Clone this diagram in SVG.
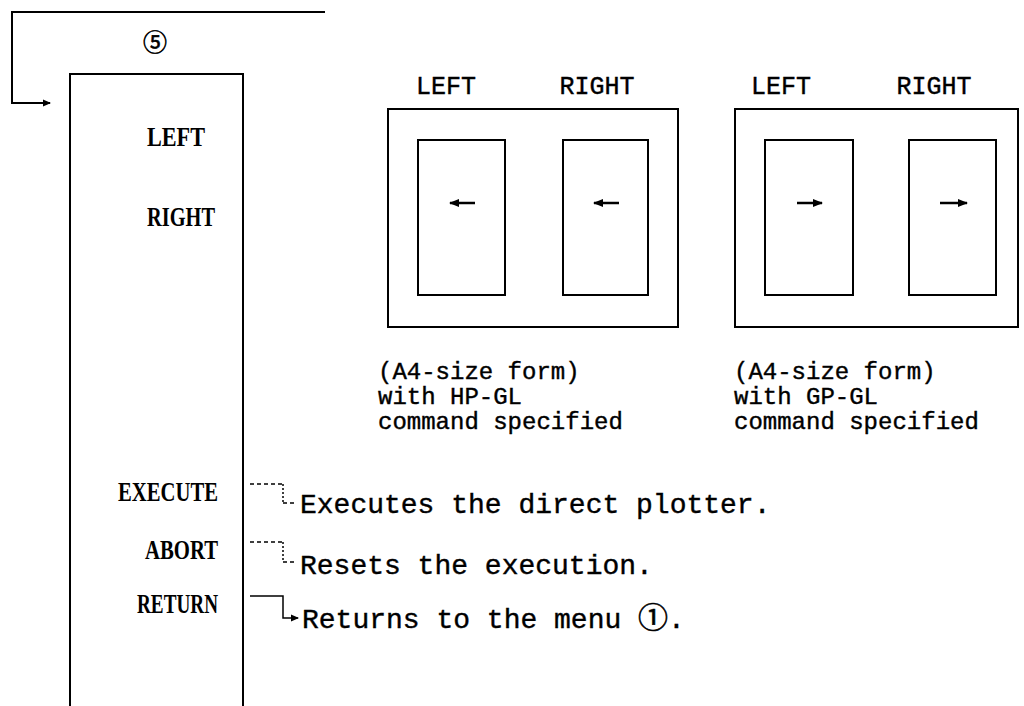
<svg xmlns="http://www.w3.org/2000/svg" width="1024" height="706" viewBox="0 0 1024 706">
<style>
.ln{fill:none;stroke:#000;stroke-width:2}
.lt{fill:none;stroke:#000;stroke-width:1.5}
.ar{fill:none;stroke:#000;stroke-width:2.5}
.dsh{fill:none;stroke:#000;stroke-width:1.5;stroke-dasharray:4 3}
.dot{fill:none;stroke:#000;stroke-width:1.5;stroke-dasharray:2 2}
.mono{font-family:"Liberation Mono","Courier New",monospace;font-size:25px;fill:#000;stroke:#000;stroke-width:0.4}
.cap{font-size:24px}
.desc{font-size:28px}
.menu{font-family:"Liberation Serif","Times New Roman",serif;font-weight:bold;font-size:27px;fill:#000}
.circ{font-family:"Noto Sans CJK JP","DejaVu Sans",sans-serif;font-size:24px;fill:#000;stroke:#000;stroke-width:0.6}
</style>
<defs>
<marker id="ah" markerWidth="8" markerHeight="8" refX="7" refY="4" orient="auto" markerUnits="userSpaceOnUse">
<path d="M0,0.5 L8,4 L0,7.5 Z" fill="#000"/>
</marker>
<marker id="ah2" markerWidth="10" markerHeight="10" refX="9" refY="5" orient="auto" markerUnits="userSpaceOnUse">
<path d="M0,1 L10,5 L0,9 Z" fill="#000"/>
</marker>
</defs>
<rect width="1024" height="706" fill="#fff"/>

<g id="connectors">
<path class="ln" d="M325,12 H12 V103 H50" marker-end="url(#ah)"/>
<path class="dsh" d="M250,484 H283"/>
<path class="dot" d="M283,484 V503"/>
<path class="dsh" d="M283,503 H297"/>
<path class="dsh" d="M250,542 H283"/>
<path class="dot" d="M283,542 V562"/>
<path class="dsh" d="M283,562 H297"/>
<path class="lt" d="M250,596 H283 V618 H298" marker-end="url(#ah)"/>
</g>

<g id="step5">
<text class="circ" x="155" y="51" text-anchor="middle">⑤</text>
</g>

<g id="menu-panel">
<path class="ln" d="M70,706 V74 H243 V706"/>
<text class="menu" x="147" y="146" textLength="58" lengthAdjust="spacingAndGlyphs">LEFT</text>
<text class="menu" x="147" y="226" textLength="68" lengthAdjust="spacingAndGlyphs">RIGHT</text>
<text class="menu" x="118" y="501" textLength="100" lengthAdjust="spacingAndGlyphs">EXECUTE</text>
<text class="menu" x="145" y="559" textLength="73" lengthAdjust="spacingAndGlyphs">ABORT</text>
<text class="menu" x="137" y="613" textLength="81" lengthAdjust="spacingAndGlyphs">RETURN</text>
</g>

<g id="form-hpgl">
<text class="mono" x="446" y="94" text-anchor="middle">LEFT</text>
<text class="mono" x="597" y="94" text-anchor="middle">RIGHT</text>
<rect class="ln" x="388" y="109" width="290" height="218"/>
<rect class="ln" x="418" y="140" width="87" height="155"/>
<rect class="ln" x="563" y="140" width="85" height="155"/>
<path class="ar" d="M475,203 H450" marker-end="url(#ah2)"/>
<path class="ar" d="M619,203 H594" marker-end="url(#ah2)"/>
<text class="mono cap" x="378" y="379">(A4-size form)</text>
<text class="mono cap" x="378" y="404">with HP-GL</text>
<text class="mono cap" x="378" y="429">command specified</text>
</g>

<g id="form-gpgl">
<text class="mono" x="781" y="94" text-anchor="middle">LEFT</text>
<text class="mono" x="934" y="94" text-anchor="middle">RIGHT</text>
<rect class="ln" x="735" y="109" width="283" height="218"/>
<rect class="ln" x="765" y="140" width="88" height="155"/>
<rect class="ln" x="909" y="140" width="87" height="155"/>
<path class="ar" d="M797,203 H822" marker-end="url(#ah2)"/>
<path class="ar" d="M940,203 H967" marker-end="url(#ah2)"/>
<text class="mono cap" x="734" y="379">(A4-size form)</text>
<text class="mono cap" x="734" y="404">with GP-GL</text>
<text class="mono cap" x="734" y="429">command specified</text>
</g>

<g id="desc-execute">
<text class="mono desc" x="300" y="513">Executes the direct plotter.</text>
</g>
<g id="desc-abort">
<text class="mono desc" x="300" y="574">Resets the execution.</text>
</g>
<g id="desc-return">
<text class="mono desc" x="302" y="628">Returns to the menu <tspan class="circ" style="font-size:30px">①</tspan>.</text>
</g>
</svg>
